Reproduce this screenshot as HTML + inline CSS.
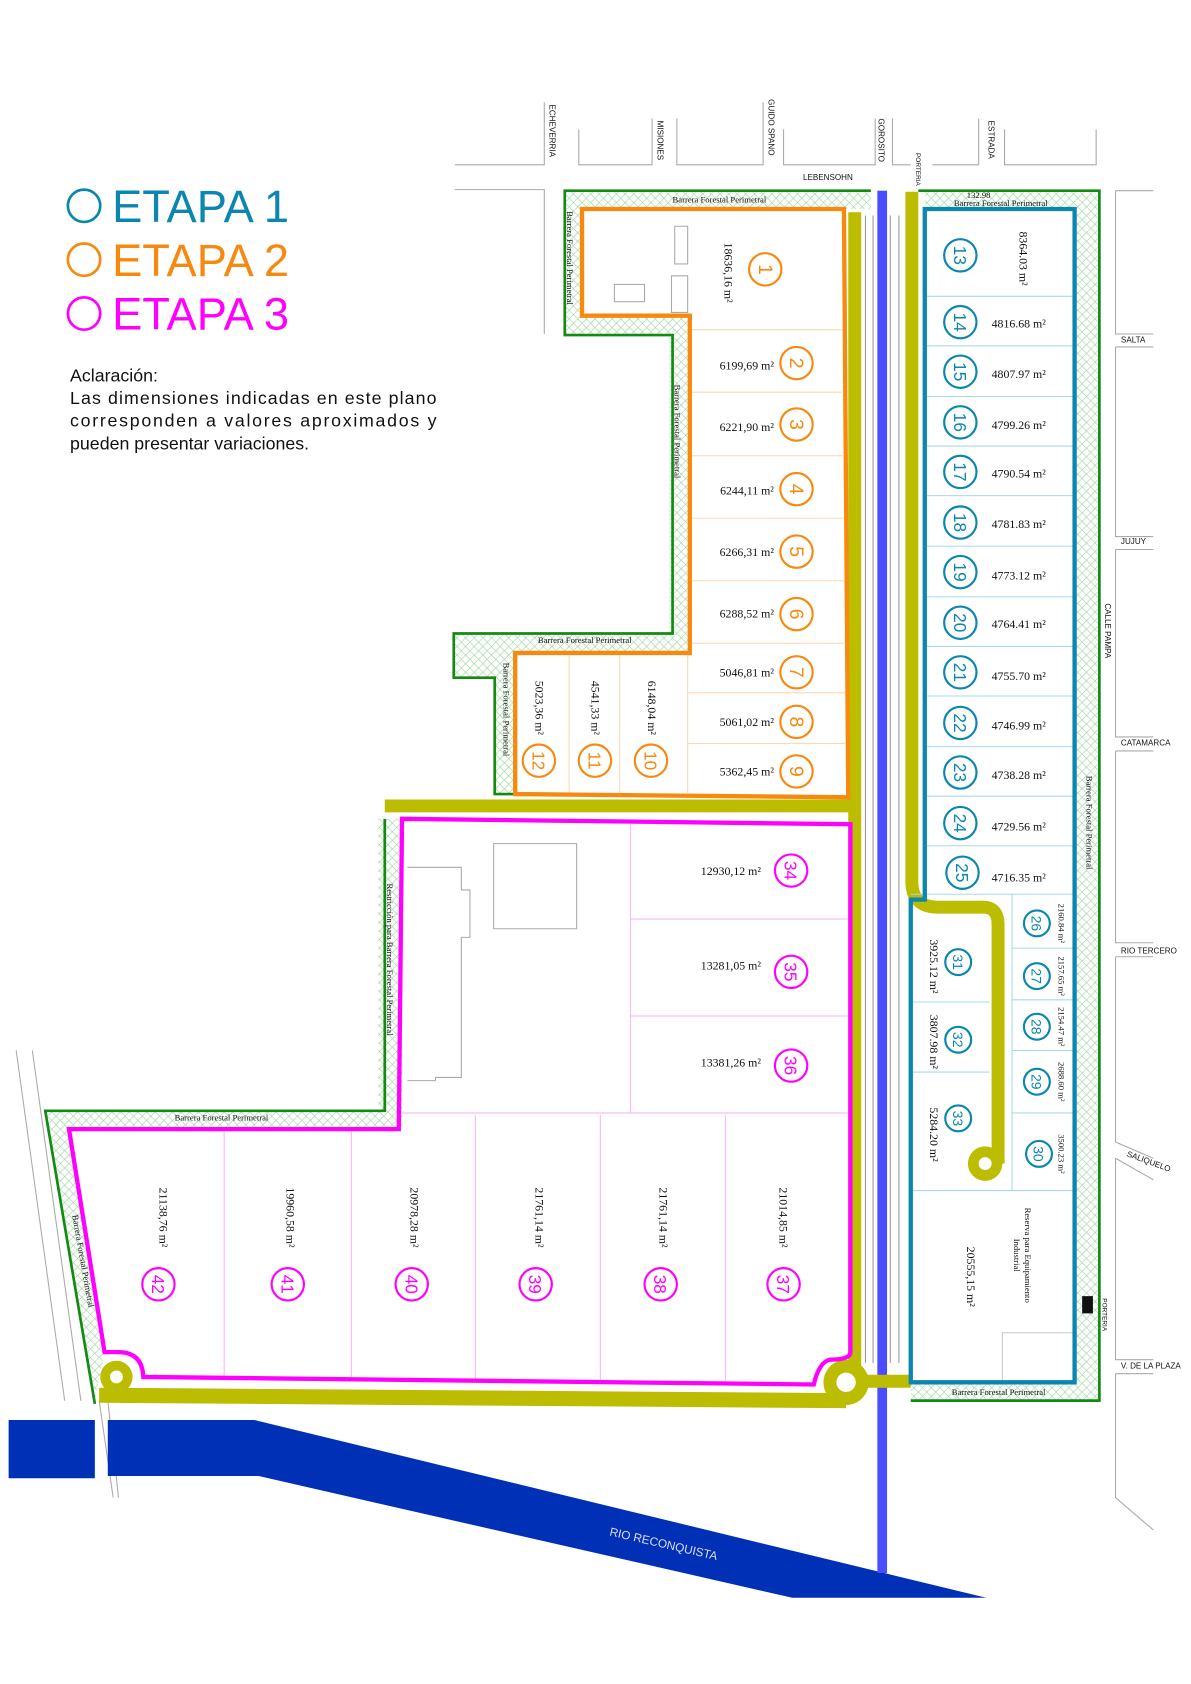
<!DOCTYPE html>
<html><head><meta charset="utf-8"><style>html,body{margin:0;padding:0;background:#fff}svg{display:block}</style></head><body>
<svg width="1191" height="1684" viewBox="0 0 1105 1563" preserveAspectRatio="none" xmlns="http://www.w3.org/2000/svg">
<defs>
<pattern id="h" width="8" height="8" patternUnits="userSpaceOnUse"><path d="M0 0L8 8M8 0L0 8" stroke="#9fd79f" stroke-width="0.6"/></pattern>
</defs>
<rect width="1105" height="1563" fill="#fff"/>
<g font-family="Liberation Sans, sans-serif">
<circle cx="78" cy="191" r="15" fill="none" stroke="#0a86b0" stroke-width="2.5"/>
<circle cx="78" cy="241" r="15" fill="none" stroke="#f7890f" stroke-width="2.5"/>
<circle cx="78" cy="291" r="15" fill="none" stroke="#ff00ff" stroke-width="2.5"/>
<text x="104" y="206" font-size="42" fill="#0a86b0">ETAPA 1</text>
<text x="104" y="256" font-size="42" fill="#f7890f">ETAPA 2</text>
<text x="104" y="306" font-size="42" fill="#ff00ff">ETAPA 3</text>
<text x="65" y="354" font-size="16.5" fill="#111">Aclaración:</text>
<text x="65" y="375" font-size="16.5" fill="#111" textLength="340" lengthAdjust="spacing">Las dimensiones indicadas en este plano</text>
<text x="65" y="396" font-size="16.5" fill="#111" textLength="340" lengthAdjust="spacing">corresponden a valores aproximados y</text>
<text x="65" y="417" font-size="16.5" fill="#111">pueden presentar variaciones.</text>
</g>
<!-- streets -->
<g stroke="#aaa" stroke-width="1" fill="none">
<path d="M422 153H505V95M537 120V153H605V110M628 110V153H708V95M727 120V153H812V110M828 110V153H845M865 153H908V110M932 120V153H1017V120"/>
<path d="M422 176H505V310"/>
<path d="M1035 177H1070M1035 177V310H1070M1035 322H1070M1035 322V498H1070M1035 510H1070M1035 510V684H1070M1035 697H1070M1035 697V875H1070M1035 888H1070M1035 888V1060L1070 1075M1035 1075L1070 1095M1035 1075V1262H1070M1035 1275H1070M1035 1275V1390L1070 1420"/>
<path d="M15 975L60 1300M30 975L75 1300M92 1300L105 1390M100 1300L110 1390"/>
</g>
<g font-family="Liberation Sans, sans-serif" font-size="7.5" fill="#111">
<text x="745" y="167">LEBENSOHN</text>
<text transform="translate(510,97) rotate(90)">ECHEVERRIA</text>
<text transform="translate(610,112) rotate(90)">MISIONES</text>
<text transform="translate(713,92) rotate(90)">GUIDO SPANO</text>
<text transform="translate(815,110) rotate(90)">GOROSITO</text>
<text transform="translate(850,142) rotate(90)" font-size="6">PORTERIA</text>
<text transform="translate(917,112) rotate(90)">ESTRADA</text>
<text x="1040" y="318">SALTA</text>
<text x="1040" y="505">JUJUY</text>
<text transform="translate(1025,560) rotate(90)">CALLE PAMPA</text>
<text x="1040" y="692">CATAMARCA</text>
<text x="1040" y="885">RIO TERCERO</text>
<text transform="translate(1045,1073) rotate(20)">SALIQUELO</text>
<text x="1040" y="1270">V. DE LA PLAZA</text>
<text transform="translate(1023,1205) rotate(90)" font-size="6">PORTERIA</text>
</g>
<!-- river -->
<path d="M8 1318H88V1372H8Z" fill="#0030b5"/>
<path d="M100 1318H236L915 1483H735L240 1370H100Z" fill="#0030b5"/>
<text transform="translate(565,1425) rotate(13)" font-family="Liberation Sans, sans-serif" font-size="11" fill="#dde">RIO RECONQUISTA</text>
<!-- green hatched barriers -->
<path d="M524 177H808V194H540V293H638V606H476V738H459V628H421V587H621V310H524Z" fill="url(#h)" stroke="none"/>
<path d="M524 177H1020V1300H845V1283H997V194H858V177" fill="url(#h)"/>
<path d="M351 760H373V1048H64L97 1255L88 1300L42 1030H351Z" fill="url(#h)"/>
<g stroke="#138a13" stroke-width="2.5" fill="none">
<path d="M808 177H524V311H624V588H421V629H459V737H476"/>
<path d="M852 177H1020V1300H845"/>
<path d="M357 760V1031H42L88 1303"/>
</g>
<!-- roads -->
<g fill="none" stroke="#999" stroke-width="1">
<path d="M803 200V1265M810 200V1265M826 200V1265M834 200V1265"/>
</g>
<rect x="814" y="177" width="9" height="1283" fill="#4a4cff"/>
<g fill="none" stroke="#bcbc00">
<path d="M793 197V1270" stroke-width="12"/>
<path d="M357 748H793" stroke-width="12"/>
<path d="M846 178V818Q846 842 870 842H912Q926 842 926 858V1080" stroke-width="12"/>
<path d="M92 1295L785 1300" stroke-width="14"/>
<path d="M800 1282H845" stroke-width="12"/>
</g>
<circle cx="785" cy="1283" r="21" fill="#bcbc00"/><circle cx="785" cy="1283" r="9" fill="#fff"/>
<circle cx="108" cy="1278" r="15" fill="#bcbc00"/><circle cx="108" cy="1278" r="6" fill="#fff"/>
<circle cx="914" cy="1080" r="16" fill="#bcbc00"/><circle cx="914" cy="1080" r="6" fill="#fff"/>
<!-- etapa 2 -->
<g stroke="#fcd9b5" stroke-width="1">
<path d="M638 306H781M638 364H781M638 423H782M638 481H782M638 539H783M638 597H783M638 643H784M638 690H784M528 606V736M575 606V736M638 606V736"/>
</g>
<rect x="570" y="264" width="28" height="16" fill="none" stroke="#aaa"/>
<path d="M626 210H638V245H626ZM623 256H638V290H623Z" fill="none" stroke="#aaa"/>
<path d="M540 194H783L787 740L478 737V606H640V293H540Z" fill="none" stroke="#f7890f" stroke-width="4"/>
<!-- etapa 3 -->
<g stroke="#f9b6f9" stroke-width="1">
<path d="M585 765V1033M585 853H789M585 943H789M373 1033H789M208 1050V1278M326 1050V1280M441 1035V1281M557 1035V1282M673 1035V1283"/>
</g>
<path d="M458 783H535V862H458ZM378 805H428V826H436V870H428V1000H404V1003H378" fill="none" stroke="#aaa"/>
<path d="M373 760L789 765V1255Q789 1262 770 1262Q760 1264 755 1285L133 1278Q132 1255 110 1255H97L64 1048H370Z" fill="none" stroke="#ff00ff" stroke-width="4"/>
<!-- etapa 1 -->
<g stroke="#a9d8ea" stroke-width="1">
<path d="M858 275H997M858 321H997M858 368H997M858 414H997M858 460H997M858 507H997M858 554H997M858 600H997M858 646H997M858 693H997M858 739H997M858 785H997M845 830H997M939 830V1105M939 880H997M939 928H997M939 975H997M939 1033H997M845 1105H997M845 930H918M845 995H918"/>
</g>
<rect x="930" y="1237" width="67" height="46" fill="none" stroke="#ccc"/>
<rect x="1004" y="1203" width="10" height="16" fill="#111"/>
<path d="M858 194H997V1283H845V835H858Z" fill="none" stroke="#0a86b0" stroke-width="4"/>
<!-- labels -->
<g font-family="Liberation Serif, serif" font-size="8" fill="#111">
<text x="624" y="188">Barrera Forestal Perimetral</text>
<text x="499" y="597">Barrera Forestal Perimetral</text>
<text x="885" y="191">Barrera Forestal Perimetral</text>
<text x="897" y="184">132.98</text>
<text x="162" y="1040">Barrera Forestal Perimetral</text>
<text x="883" y="1295">Barrera Forestal Perimetral</text>
<text transform="translate(526,196) rotate(90)">Barrera Forestal Perimetral</text>
<text transform="translate(626,357) rotate(90)">Barrera Forestal Perimetral</text>
<text transform="translate(467,615) rotate(90)">Barrera Forestal Perimetral</text>
<text transform="translate(359,820) rotate(90)">Restricción para Barrera Forestal Perimetral</text>
<text transform="translate(1008,720) rotate(90)">Barrera Forestal Perimetral</text>
<text transform="translate(67,1128) rotate(80)">Barrera Forestal Perimetral</text>
</g>
<g font-family="Liberation Serif, serif" font-size="11" fill="#111" text-anchor="end">
<text x="718" y="343">6199,69 m²</text><text x="718" y="400">6221,90 m²</text><text x="718" y="459">6244,11 m²</text>
<text x="718" y="516">6266,31 m²</text><text x="718" y="573">6288,52 m²</text><text x="718" y="628">5046,81 m²</text>
<text x="718" y="674">5061,02 m²</text><text x="718" y="720">5362,45 m²</text>
<text x="706" y="812">12930,12 m²</text><text x="706" y="900">13281,05 m²</text><text x="706" y="990">13381,26 m²</text>
</g>
<g font-family="Liberation Serif, serif" font-size="11" fill="#111">
<text x="920" y="304">4816.68 m²</text><text x="920" y="351">4807.97 m²</text><text x="920" y="398">4799.26 m²</text>
<text x="920" y="443">4790.54 m²</text><text x="920" y="490">4781.83 m²</text><text x="920" y="538">4773.12 m²</text>
<text x="920" y="583">4764.41 m²</text><text x="920" y="631">4755.70 m²</text><text x="920" y="677">4746.99 m²</text>
<text x="920" y="723">4738.28 m²</text><text x="920" y="771">4729.56 m²</text><text x="920" y="818">4716.35 m²</text>
</g>
<g font-family="Liberation Serif, serif" font-size="11" fill="#111" text-anchor="middle">
<text transform="translate(672,253) rotate(90)">18636,16 m²</text>
<text transform="translate(497,657) rotate(90)">5023,36 m²</text>
<text transform="translate(549,657) rotate(90)">4541,33 m²</text>
<text transform="translate(601,657) rotate(90)">6148,04 m²</text>
<text transform="translate(946,240) rotate(90)">8364.03 m²</text>
<text transform="translate(863,897) rotate(90)">3925.12 m²</text>
<text transform="translate(863,967) rotate(90)">3807.98 m²</text>
<text transform="translate(863,1053) rotate(90)">5284.20 m²</text>
<text transform="translate(897,1185) rotate(90)">20555,15 m²</text>
<text transform="translate(148,1130) rotate(90)">21138,76 m²</text>
<text transform="translate(266,1130) rotate(90)">19960,58 m²</text>
<text transform="translate(381,1130) rotate(90)">20978,28 m²</text>
<text transform="translate(497,1130) rotate(90)">21761,14 m²</text>
<text transform="translate(612,1130) rotate(90)">21761,14 m²</text>
<text transform="translate(723,1130) rotate(90)">21014,85 m²</text>
</g>
<g font-family="Liberation Serif, serif" font-size="8" fill="#111" text-anchor="middle">
<text transform="translate(982,857) rotate(90)">2160.84 m²</text>
<text transform="translate(982,906) rotate(90)">2157.65 m²</text>
<text transform="translate(982,953) rotate(90)">2154.47 m²</text>
<text transform="translate(982,1004) rotate(90)">2688.60 m²</text>
<text transform="translate(982,1071) rotate(90)">3500.23 m²</text>
<text transform="translate(951,1165) rotate(90)">Reserva para Equipamiento</text>
<text transform="translate(941,1165) rotate(90)">Industrial</text>
</g>
<!-- lot number circles -->
<g font-family="Liberation Sans, sans-serif" font-size="18" text-anchor="middle" fill="none" stroke-width="2">
<g stroke="#f7890f">
<circle cx="710" cy="250" r="15"/><circle cx="739" cy="337" r="15"/><circle cx="739" cy="394" r="15"/><circle cx="739" cy="454" r="15"/><circle cx="739" cy="512" r="15"/><circle cx="739" cy="570" r="15"/><circle cx="739" cy="624" r="15"/><circle cx="739" cy="670" r="15"/><circle cx="739" cy="716" r="15"/><circle cx="500" cy="706" r="15"/><circle cx="552" cy="706" r="15"/><circle cx="604" cy="706" r="15"/>
</g>
<g stroke="#ff00ff">
<circle cx="734" cy="808" r="15"/><circle cx="734" cy="902" r="15"/><circle cx="734" cy="989" r="15"/><circle cx="147" cy="1192" r="15"/><circle cx="267" cy="1192" r="15"/><circle cx="382" cy="1192" r="15"/><circle cx="497" cy="1192" r="15"/><circle cx="613" cy="1192" r="15"/><circle cx="727" cy="1192" r="15"/>
</g>
<g stroke="#0a86b0">
<circle cx="891" cy="237" r="15"/><circle cx="891" cy="299" r="15"/><circle cx="891" cy="345" r="15"/><circle cx="891" cy="392" r="15"/><circle cx="891" cy="438" r="15"/><circle cx="891" cy="485" r="15"/><circle cx="891" cy="531" r="15"/><circle cx="891" cy="578" r="15"/><circle cx="891" cy="624" r="15"/><circle cx="891" cy="671" r="15"/><circle cx="891" cy="717" r="15"/><circle cx="891" cy="764" r="15"/><circle cx="893" cy="810" r="15"/>
<circle cx="962" cy="857" r="12"/><circle cx="962" cy="906" r="12"/><circle cx="962" cy="953" r="12"/><circle cx="962" cy="1004" r="12"/><circle cx="964" cy="1071" r="12"/><circle cx="889" cy="893" r="12"/><circle cx="889" cy="965" r="12"/><circle cx="889" cy="1038" r="12"/>
</g>
</g>
<g font-family="Liberation Sans, sans-serif" font-size="18">
<g fill="#f7890f">
<text transform="translate(704,250) rotate(90)" text-anchor="middle">1</text>
<text transform="translate(733,337) rotate(90)" text-anchor="middle">2</text><text transform="translate(733,394) rotate(90)" text-anchor="middle">3</text><text transform="translate(733,454) rotate(90)" text-anchor="middle">4</text><text transform="translate(733,512) rotate(90)" text-anchor="middle">5</text><text transform="translate(733,570) rotate(90)" text-anchor="middle">6</text><text transform="translate(733,624) rotate(90)" text-anchor="middle">7</text><text transform="translate(733,670) rotate(90)" text-anchor="middle">8</text><text transform="translate(733,716) rotate(90)" text-anchor="middle">9</text>
<text transform="translate(494,706) rotate(90)" text-anchor="middle" font-size="16">12</text><text transform="translate(546,706) rotate(90)" text-anchor="middle" font-size="16">11</text><text transform="translate(598,706) rotate(90)" text-anchor="middle" font-size="16">10</text>
</g>
<g fill="#ff00ff" font-size="16" text-anchor="middle">
<text transform="translate(728,808) rotate(90)">34</text><text transform="translate(728,902) rotate(90)">35</text><text transform="translate(728,989) rotate(90)">36</text>
<text transform="translate(141,1192) rotate(90)">42</text><text transform="translate(261,1192) rotate(90)">41</text><text transform="translate(376,1192) rotate(90)">40</text><text transform="translate(491,1192) rotate(90)">39</text><text transform="translate(607,1192) rotate(90)">38</text><text transform="translate(721,1192) rotate(90)">37</text>
</g>
<g fill="#0a86b0" font-size="16" text-anchor="middle">
<text transform="translate(885,237) rotate(90)">13</text><text transform="translate(885,299) rotate(90)">14</text><text transform="translate(885,345) rotate(90)">15</text><text transform="translate(885,392) rotate(90)">16</text><text transform="translate(885,438) rotate(90)">17</text><text transform="translate(885,485) rotate(90)">18</text><text transform="translate(885,531) rotate(90)">19</text><text transform="translate(885,578) rotate(90)">20</text><text transform="translate(885,624) rotate(90)">21</text><text transform="translate(885,671) rotate(90)">22</text><text transform="translate(885,717) rotate(90)">23</text><text transform="translate(885,764) rotate(90)">24</text><text transform="translate(887,810) rotate(90)">25</text>
</g>
<g fill="#0a86b0" font-size="13" text-anchor="middle">
<text transform="translate(957,857) rotate(90)">26</text><text transform="translate(957,906) rotate(90)">27</text><text transform="translate(957,953) rotate(90)">28</text><text transform="translate(957,1004) rotate(90)">29</text><text transform="translate(959,1071) rotate(90)">30</text><text transform="translate(884,893) rotate(90)">31</text><text transform="translate(884,965) rotate(90)">32</text><text transform="translate(884,1038) rotate(90)">33</text>
</g>
</g>
</svg>
</body></html>
